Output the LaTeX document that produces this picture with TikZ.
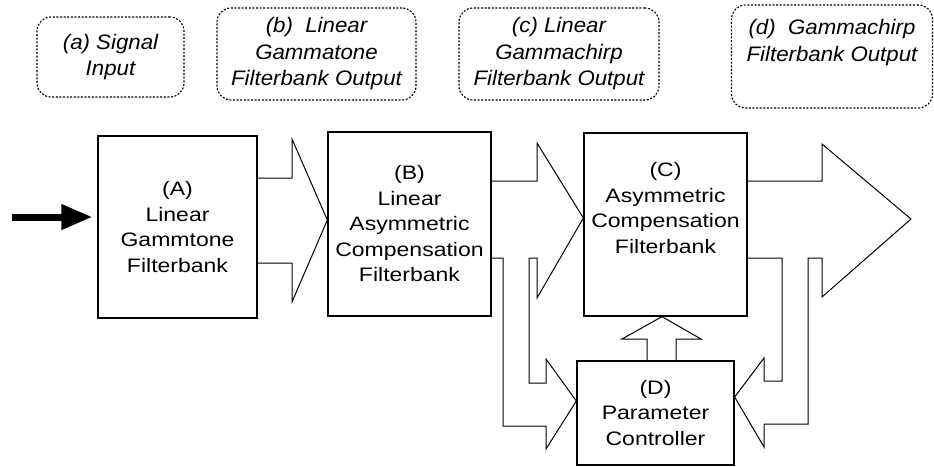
\documentclass[tikz,border=0pt]{standalone}
\usepackage{fontspec}
\setmainfont{Liberation Sans}
\newfontfamily\boxfont{Liberation Sans}[FakeStretch=1.18]
\newfontfamily\labfont{Liberation Sans}[FakeStretch=1.06]
\usetikzlibrary{arrows.meta}
\begin{document}
\begin{tikzpicture}[x=1pt,y=-1pt,
  blk/.style={draw,line width=1.3pt,inner sep=0pt,align=center,font=\boxfont\fontsize{19.5}{25.5}\selectfont},
  lab/.style={draw,line width=1.1pt,dash pattern=on 2pt off 1.6pt,rounded corners=14pt,inner sep=0pt,align=center,font=\labfont\itshape\fontsize{21}{26.5}\selectfont},
  barrow/.style={draw,line width=1pt,line join=miter}]
\useasboundingbox (0,0) rectangle (934,466);
% label boxes
\node[lab,minimum width=147pt,minimum height=80pt] (la) at (110.5,57) {(a) Signal\\Input};
\node[lab,minimum width=199pt,minimum height=92pt] (lb) at (316.5,54) {(b)\ \ Linear\\Gammatone\\Filterbank Output};
\node[lab,minimum width=200pt,minimum height=92pt] (lc) at (559,54) {(c)\ Linear\\Gammachirp\\Filterbank Output};
\node[lab,minimum width=201pt,minimum height=103pt] (ld) at (832,56.5) {(d)\ \ Gammachirp\\Filterbank Output\\[6pt]};
% blocks
\node[blk,minimum width=159pt,minimum height=182pt] (A) at (177.5,227) {(A)\\Linear\\Gammtone\\Filterbank};
\node[blk,minimum width=163pt,minimum height=184pt] (B) at (409.5,224) {(B)\\Linear\\Asymmetric\\Compensation\\Filterbank};
\node[blk,minimum width=163pt,minimum height=183pt] (C) at (665.5,224.5) {(C)\\Asymmetric\\Compensation\\Filterbank\\[8pt]};
\node[blk,minimum width=157pt,minimum height=104pt] (D) at (655.5,413) {(D)\\Parameter\\Controller};
% input arrow
\coordinate (in) at (12,217);
\draw[line width=7pt,-{Triangle[length=31pt,width=24pt]}] (in) -- ([xshift=-5pt]A.west |- in);
% A -> B
\draw[barrow] (A.east |- 0,178) -- (292,178) -- (292,139) -- (B.west |- 0,220)
  -- (292,302) -- (292,263) -- (A.east |- 0,263);
% B -> C and branch to D
\draw[barrow] (B.east |- 0,181) -- (537,181) -- (537,143) -- (C.west |- 0,218)
  -- (537,298) -- (537,258) -- (529,258) -- (529,383) -- (546,383) -- (546,359)
  -- (D.west |- 0,401) -- (546,449) -- (546,426) -- (503,426) -- (503,258) -- (B.east |- 0,258);
% C -> output and branch to D
\draw[barrow] (C.east |- 0,181) -- (822,181) -- (822,144) -- (911,219)
  -- (822,297) -- (822,258) -- (808,258) -- (808,424) -- (764,424) -- (764,447)
  -- (D.east |- 0,397) -- (764,358) -- (764,381) -- (782,381) -- (782,258) -- (C.east |- 0,258);
% D -> C
\draw[barrow] (D.north -| 647,0) -- (647,339) -- (622,339) -- (C.south -| 662,0)
  -- (701,339) -- (676,339) -- (D.north -| 676,0);
\end{tikzpicture}
\end{document}
